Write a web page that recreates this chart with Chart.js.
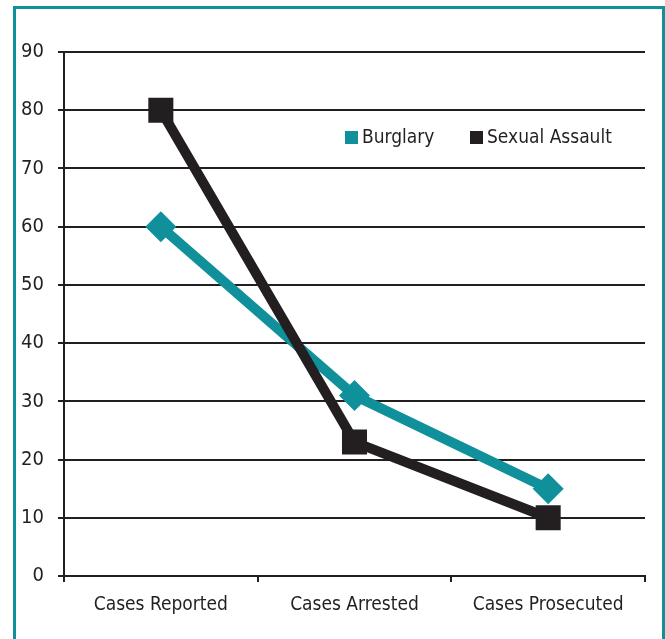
<!DOCTYPE html>
<html>
<head>
<meta charset="utf-8">
<script src="https://cdn.jsdelivr.net/npm/chart.js@4"></script>
<style>
  body { margin: 0; background: #fff; }
  #frame { position: absolute; left: 13px; top: 6px; width: 646px; height: 640px; border: 3px solid #10909a; }
  #wrap { position: absolute; left: 0; top: 0; width: 665px; height: 639px; }
</style>
</head>
<body>
<div id="frame"></div>
<div id="wrap"><canvas id="chart" width="665" height="639"></canvas></div>
<script>
const categories = ["Cases Reported", "Cases Arrested", "Cases Prosecuted"];
const burglary = [60, 31, 15];
const sexualAssault = [80, 23, 10];
const yTicks = [0, 10, 20, 30, 40, 50, 60, 70, 80, 90];

const teal = '#10909a';
const ink = '#231f20';
const font = "'Liberation Sans Narrow', 'DejaVu Sans Condensed', sans-serif";

// legend sits inside the plot, drawn by hand
const innerLegend = {
  id: 'innerLegend',
  afterDraw(chart) {
    const ctx = chart.ctx;
    const items = [
      { label: 'Burglary', color: teal, x: 345 },
      { label: 'Sexual Assault', color: ink, x: 470 }
    ];
    ctx.save();
    ctx.font = '19px ' + font;
    ctx.textBaseline = 'middle';
    items.forEach(it => {
      ctx.fillStyle = it.color;
      ctx.fillRect(it.x, 131, 13, 13);
      ctx.fillStyle = ink;
      ctx.fillText(it.label, it.x + 17, 138);
    });
    ctx.restore();
  }
};

new Chart(document.getElementById("chart").getContext("2d"), {
  type: 'line',
  data: {
    labels: categories,
    datasets: [{
      label: 'Burglary',
      data: burglary,
      borderColor: teal,
      backgroundColor: teal,
      borderWidth: 10,
      pointStyle: 'rectRot',
      pointRadius: 15.5,
      pointBorderWidth: 0,
      pointBackgroundColor: teal,
      order: 1
    }, {
      label: 'Sexual Assault',
      data: sexualAssault,
      borderColor: ink,
      backgroundColor: ink,
      borderWidth: 10,
      pointStyle: 'rect',
      pointRadius: 17.7,
      pointBorderWidth: 0,
      pointBackgroundColor: ink,
      order: 0
    }]
  },
  options: {
    responsive: false,
    animation: false,
    layout: { padding: { top: 52, right: 20, left: 0, bottom: 0 } },
    plugins: { legend: { display: false }, tooltip: { enabled: false } },
    scales: {
      x: {
        offset: true,
        grid: { offset: true, drawOnChartArea: false, color: ink, lineWidth: 2, tickLength: 6, tickColor: ink },
        border: { color: ink, width: 2 },
        ticks: { color: ink, font: { family: font, size: 19 }, padding: 12, maxRotation: 0 },
        afterFit(scale) { scale.height = 63; }
      },
      y: {
        min: 0,
        max: 90,
        afterBuildTicks(scale) { scale.ticks = yTicks.map(v => ({ value: v })); },
        grid: { color: ink, lineWidth: 2, tickLength: 6, tickColor: ink },
        border: { color: ink, width: 2 },
        ticks: { color: ink, font: { family: font, size: 20 }, padding: 14 },
        afterFit(scale) { scale.width = 64; }
      }
    }
  },
  plugins: [innerLegend]
});
</script>
</body>
</html>
